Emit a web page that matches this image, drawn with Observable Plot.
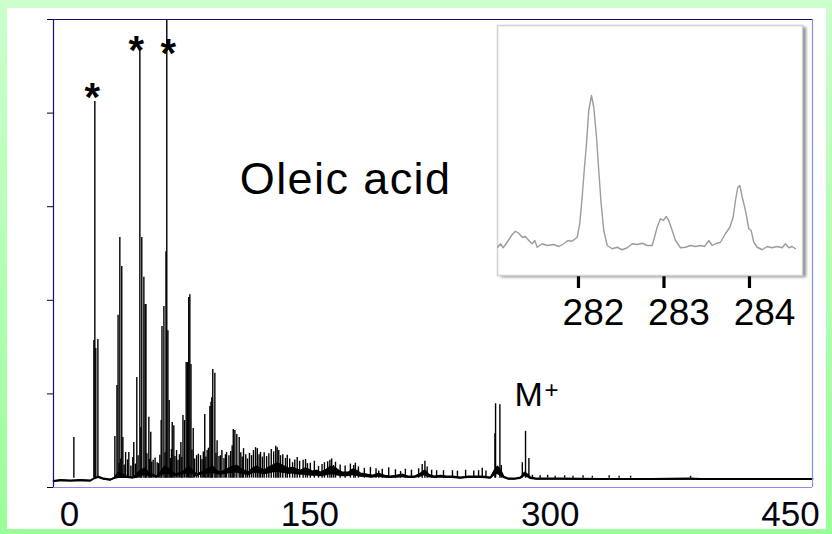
<!DOCTYPE html>
<html><head><meta charset="utf-8">
<script src="https://cdn.jsdelivr.net/npm/d3@7"></script>
<script src="https://cdn.jsdelivr.net/npm/@observablehq/plot@0.6"></script>
<style>
html,body{margin:0;padding:0;background:#fff;}
#wrap{position:relative;width:832px;height:534px;overflow:hidden;background:linear-gradient(to bottom,#ccffcc,#99ff99);}
#main{position:absolute;left:7px;top:8px;}
#insetbox{position:absolute;left:497px;top:25px;width:305px;height:250px;background:#fff;box-shadow:4px 2px 3px #8a8a8a;}
#inset{position:absolute;left:490px;top:20px;}
</style>
</head><body>
<div id="wrap"><div id="main"></div><div id="insetbox"></div><div id="inset"></div></div>
<script>
// ---- main spectrum: axis ----
const xDomain = [-10, 463.7];
const xTicks = [0, 150, 300, 450];
const yDomain = [0, 100];
const yTicks = [0, 20, 40, 60, 80, 100];

// ---- main spectrum: peaks (m/z, relative intensity) ----
const peakMz = [2.7, 15.2, 15.8, 16.4, 17.7, 28.3, 29.6, 30.3, 31.4, 32.6, 33.3, 35.0, 37.0, 40.1, 42.0, 43.9, 44.5, 45.1, 46.4, 47.2, 47.7, 49.5, 50.7, 52.2, 54.7, 57.2, 57.7, 58.9, 60.2, 60.7, 61.4, 62.2, 64.1, 65.1, 66.8, 69.5, 70.8, 71.8, 72.8, 73.6, 74.4, 75.1, 75.8, 77.2, 79.3, 81.8, 84.4, 85.9, 87.6, 88.3, 88.8, 89.4, 90.7, 92.1, 94.2, 98.0, 102.2, 103.2, 104.4, 105.9, 108.6, 112.3, 117.2, 119.2, 123.0, 129.6, 131.7, 134.8, 139.2, 147.3, 148.5, 155.4, 162.5, 164.8, 177.4, 193.0, 206.6, 220.1, 221.8, 229.1, 239.0, 252.3, 257.6, 265.5, 265.9, 268.6, 269.5, 282.6, 284.6, 286.7, 387.6];
const peakInt = [10.7, 31.4, 82.5, 29.7, 31.6, 10.9, 21.8, 36.8, 53.4, 47.2, 10.7, 7.5, 7.5, 9.6, 23.5, 93.8, 12.8, 53.4, 44.9, 39.1, 39.1, 15.0, 11.8, 5.8, 5.3, 14.3, 34.4, 38.7, 50.4, 100, 33.5, 18.6, 13.9, 13.2, 7.9, 9.6, 15.4, 14.3, 26.7, 26.7, 40.6, 41.2, 26.3, 12.6, 6.8, 6.8, 15.6, 7.9, 17.3, 18.2, 19.2, 25.2, 24.4, 10.0, 6.8, 7.5, 12.4, 12.2, 11.3, 10.7, 8.3, 7.3, 8.3, 7.5, 6.6, 8.5, 6.8, 6.2, 5.3, 6.0, 5.1, 4.5, 5.8, 4.7, 4.7, 3.5, 3.4, 4.9, 5.6, 3.6, 3.6, 3.5, 4.1, 11.5, 17.9, 17.7, 4.7, 5.3, 12.0, 6.2, 2.4];
const peakFoot = 2;

// ---- main spectrum: small "grass" spikes ----
const grassMz = [30.9, 32.0, 34.1, 36.2, 38.3, 39.5, 41.1, 42.8, 48.3, 49.9, 51.3, 53.4, 55.6, 56.4, 59.6, 63.0, 63.6, 65.8, 67.7, 68.6, 70.1, 76.4, 78.1, 80.4, 82.7, 83.5, 85.1, 86.7, 91.4, 93.3, 95.1, 96.4, 97.3, 99.5, 100.6, 101.5, 106.9, 107.8, 110.0, 111.1, 113.6, 114.8, 116.1, 118.3, 120.4, 121.5, 124.4, 125.9, 127.4, 128.7, 130.6, 133.1, 135.9, 137.4, 140.6, 142.1, 143.6, 145.8, 150.3, 152.8, 157.6, 159.1, 161.1, 163.6, 166.0, 168.9, 172.0, 175.3, 178.4, 180.3, 184.0, 187.8, 191.3, 195.2, 199.2, 203.4, 209.6, 213.4, 217.9, 223.2, 226.0, 233.4, 242.1, 247.2, 255.3, 259.9, 288.9, 293.7, 298.4, 303.1, 309.0, 314.2, 320.5, 326.3, 336.8, 343.0, 350.2];
const grassInt = [5.2, 6.1, 4.8, 5.9, 4.6, 6.4, 5.0, 6.8, 7.2, 6.0, 5.4, 6.3, 5.1, 6.9, 7.4, 6.2, 8.1, 6.6, 5.8, 7.0, 6.4, 8.0, 6.1, 7.1, 6.0, 7.6, 6.5, 8.4, 7.3, 6.6, 7.9, 6.2, 7.0, 6.8, 7.7, 8.9, 7.4, 6.5, 7.0, 6.1, 6.8, 7.9, 8.5, 7.0, 6.5, 7.4, 7.2, 8.1, 7.6, 8.8, 7.9, 7.0, 6.9, 6.1, 5.9, 6.4, 5.6, 5.8, 5.2, 5.6, 4.9, 5.3, 5.5, 6.1, 5.4, 4.8, 4.6, 5.0, 5.2, 4.4, 4.1, 4.3, 4.0, 3.9, 4.2, 3.8, 3.9, 3.7, 4.0, 4.4, 3.7, 3.6, 3.5, 3.7, 3.6, 3.5, 2.6, 2.5, 2.6, 2.4, 2.5, 2.4, 2.5, 2.4, 2.5, 2.4, 2.4];

// ---- main spectrum: noise floor (upper / lower edge of the grass) ----
const baseMz = [-10.0, -5.6, 0.6, 6.9, 13.1, 15.0, 18.1, 21.2, 25.6, 28.1, 30.6, 33.1, 35.6, 39.3, 41.8, 44.3, 46.8, 49.3, 51.8, 54.3, 56.8, 59.3, 61.8, 64.3, 66.8, 69.3, 71.8, 74.3, 76.8, 79.3, 81.8, 84.3, 86.8, 89.2, 91.7, 94.2, 96.7, 99.2, 101.7, 104.2, 106.7, 109.2, 111.7, 114.2, 116.7, 119.2, 121.7, 124.2, 126.7, 129.2, 131.7, 134.2, 136.7, 139.2, 141.7, 144.2, 146.7, 149.2, 151.7, 154.2, 156.6, 160.4, 162.9, 165.4, 167.9, 170.4, 174.1, 176.6, 179.1, 181.6, 185.4, 189.1, 192.9, 196.6, 200.3, 204.1, 207.8, 211.6, 215.3, 219.1, 221.6, 224.1, 227.8, 231.5, 235.3, 239.0, 244.0, 249.0, 254.0, 257.8, 262.8, 265.2, 267.1, 269.0, 270.9, 274.0, 277.7, 281.5, 284.0, 285.8, 287.7, 291.5, 306.4, 331.4, 362.6, 387.6, 393.8, 425.0, 456.2, 463.7];
const baseHi = [1.39, 1.60, 1.50, 1.60, 1.50, 1.92, 2.35, 1.92, 1.71, 2.14, 3.21, 2.78, 2.35, 2.14, 2.78, 3.63, 4.06, 3.21, 2.78, 2.35, 3.21, 4.49, 4.06, 3.21, 2.78, 3.21, 3.63, 4.49, 3.63, 2.78, 3.21, 3.63, 4.06, 4.49, 3.63, 3.21, 3.63, 4.06, 4.49, 4.70, 4.06, 3.63, 3.21, 4.06, 4.49, 4.06, 3.63, 4.27, 4.70, 5.13, 4.92, 4.49, 4.06, 4.27, 3.85, 3.63, 4.06, 3.85, 3.42, 3.63, 3.21, 3.85, 4.49, 4.27, 3.63, 3.21, 3.21, 3.85, 3.63, 2.99, 2.78, 2.56, 2.99, 2.56, 2.35, 2.56, 2.78, 2.35, 2.35, 2.99, 3.63, 2.78, 2.35, 2.56, 2.35, 2.35, 2.14, 2.35, 2.35, 2.35, 2.14, 3.63, 4.49, 3.63, 2.35, 1.92, 1.92, 2.14, 3.21, 2.78, 2.14, 1.92, 1.92, 1.82, 1.82, 1.92, 1.82, 1.82, 1.82, 1.82];
const baseLo = [1.05, 1.25, 1.15, 1.25, 1.15, 1.55, 1.9, 1.55, 1.35, 1.7, 1.9, 1.9, 1.9, 1.8, 1.9, 2.3, 2.5, 2.4, 2.3, 1.95, 2.4, 2.7, 2.7, 2.5, 2.3, 2.6, 2.8, 2.9, 2.8, 2.3, 2.6, 2.8, 2.9, 3.0, 2.8, 2.6, 2.8, 2.9, 3.0, 3.1, 2.9, 2.7, 2.5, 2.9, 3.0, 2.9, 2.7, 2.9, 3.1, 3.2, 3.1, 3.0, 2.8, 2.9, 2.7, 2.6, 2.6, 2.5, 2.4, 2.4, 2.3, 2.5, 2.7, 2.6, 2.4, 2.3, 2.3, 2.5, 2.4, 2.2, 2.1, 2.0, 2.2, 2.0, 1.9, 2.0, 2.1, 1.9, 1.9, 2.2, 2.5, 2.1, 1.9, 2.0, 1.9, 1.9, 1.75, 1.9, 1.9, 1.9, 1.75, 2.4, 2.8, 2.4, 1.9, 1.55, 1.55, 1.7, 2.3, 2.1, 1.7, 1.55, 1.55, 1.47, 1.47, 1.55, 1.47, 1.47, 1.47, 1.47];

// ---- annotations (data coordinates) ----
const starMz = [14.2, 41.6, 61.6];
const starInt = [84.4, 94.4, 93.8];
const titleText = ["Oleic acid"];
const titleMz = [172.3];
const titleInt = [62.8];
const ionText = ["M", "+"];
const ionMz = [286.5, 300.8];
const ionInt = [17.5, 19.1];

// ---- inset: molecular-ion region ----
const insetDomain = [281.053, 284.62];
const insetTicks = [282, 283, 284];
const insetMz = [281.056, 281.088, 281.119, 281.166, 281.225, 281.263, 281.302, 281.342, 281.380, 281.419, 281.458, 281.489, 281.517, 281.575, 281.634, 281.711, 281.770, 281.828, 281.875, 281.926, 281.985, 282.015, 282.043, 282.070, 282.094, 282.120, 282.152, 282.179, 282.211, 282.237, 282.265, 282.296, 282.336, 282.394, 282.453, 282.511, 282.570, 282.628, 282.687, 282.745, 282.804, 282.862, 282.889, 282.920, 282.959, 282.991, 283.026, 283.056, 283.096, 283.135, 283.193, 283.251, 283.310, 283.368, 283.427, 283.474, 283.524, 283.564, 283.602, 283.661, 283.719, 283.770, 283.809, 283.836, 283.863, 283.887, 283.915, 283.953, 283.992, 284.020, 284.050, 284.090, 284.149, 284.207, 284.265, 284.324, 284.382, 284.421, 284.460, 284.499, 284.538];
const insetInt = [11.3, 12.7, 11.1, 13.3, 16.4, 17.7, 16.9, 15.3, 15.6, 14.0, 12.7, 14.0, 11.3, 12.7, 12.0, 12.4, 11.6, 12.7, 14.0, 13.7, 15.3, 20.7, 31.3, 43.3, 52.7, 66.0, 72.0, 67.3, 55.3, 42.0, 28.7, 18.0, 12.0, 10.7, 11.3, 10.3, 11.1, 12.7, 12.4, 12.9, 12.0, 12.0, 15.3, 19.3, 22.7, 22.0, 23.6, 22.0, 18.0, 14.0, 11.1, 11.3, 12.0, 11.6, 12.0, 11.6, 14.0, 12.0, 12.7, 13.3, 16.7, 19.3, 23.3, 30.0, 35.3, 36.0, 31.3, 26.0, 18.7, 18.0, 13.3, 11.3, 10.3, 11.6, 11.1, 11.6, 11.1, 12.7, 11.1, 11.6, 10.7];

const font = "Liberation Sans, Arial, Helvetica, sans-serif";
const peaks = peakMz.map((m, i) => ({mz: m, int: peakInt[i]}));
const grass = grassMz.map((m, i) => ({mz: m, int: grassInt[i]}));
const floor = baseMz.map((m, i) => ({mz: m, hi: baseHi[i], lo: baseLo[i]}));
const stars = starMz.map((m, i) => ({mz: m, int: starInt[i]}));
const titles = titleMz.map((m, i) => ({mz: m, int: titleInt[i], t: titleText[i]}));
const ions = ionMz.map((m, i) => ({mz: m, int: ionInt[i], t: ionText[i]}));
const inset = insetMz.map((m, i) => ({mz: m, int: insetInt[i]}));

const main = Plot.plot({
  width: 819, height: 521,
  marginLeft: 46, marginRight: 14, marginTop: 11, marginBottom: 42,
  x: {domain: xDomain, ticks: xTicks, tickSize: 0, tickPadding: 14, tickFormat: d => String(d), label: null},
  y: {domain: yDomain, ticks: yTicks, tickSize: 6, tickFormat: () => "", label: null},
  style: {background: "#fff", fontSize: "35px", fontFamily: font, color: "#05050f", overflow: "visible"},
  marks: [
    Plot.areaY(floor, {x: "mz", y1: "lo", y2: "hi", fill: "#000"}),
    Plot.line(floor, {x: "mz", y: "hi", stroke: "#000", strokeWidth: 1.8}),
    Plot.ruleX(grass, {x: "mz", y1: peakFoot, y2: "int", stroke: "#000", strokeWidth: 1.4}),
    Plot.ruleX(peaks, {x: "mz", y1: peakFoot, y2: "int", stroke: "#000", strokeWidth: 1.4}),
    Plot.ruleY([yDomain[1]], {stroke: "#101080", strokeWidth: 1.2}),
    Plot.ruleX([xDomain[0]], {stroke: "#101080", strokeWidth: 1.2}),
    Plot.ruleY([yDomain[0]], {stroke: "#8c8cf0", strokeWidth: 1.2}),
    Plot.ruleX([xDomain[1]], {stroke: "#8c8cf0", strokeWidth: 1.2}),
    Plot.text(stars, {x: "mz", y: "int", text: () => "*", fontSize: 40, fontWeight: "bold", fontFamily: font, lineAnchor: "bottom", dy: 18, fill: "#000"}),
    Plot.text(titles, {x: "mz", y: "int", text: "t", fontSize: 45, fontFamily: font, lineAnchor: "bottom", fill: "#000"}),
    Plot.text(ions.slice(0, 1), {x: "mz", y: "int", text: "t", fontSize: 34, fontFamily: font, lineAnchor: "bottom", fill: "#000"}),
    Plot.text(ions.slice(1), {x: "mz", y: "int", text: "t", fontSize: 24, fontFamily: font, lineAnchor: "bottom", fill: "#000"})
  ]
});
document.getElementById("main").appendChild(main);
// slightly wider lettering for the title, as in the reference
d3.select(main).selectAll("text").filter(function() { return this.textContent === titleText[0]; }).style("letter-spacing", "1.4px");

const ins = Plot.plot({
  width: 325, height: 315,
  marginLeft: 7, marginRight: 13, marginTop: 5, marginBottom: 60,
  x: {domain: insetDomain, ticks: insetTicks, tickSize: 13, tickPadding: 10, tickFormat: d => String(d), label: null},
  y: {domain: [0, 100], axis: null},
  style: {background: "transparent", fontSize: "37px", fontFamily: font, color: "#000", overflow: "visible"},
  marks: [
    Plot.frame({stroke: "#d2d2d2", strokeWidth: 1.5}),
    Plot.line(inset, {x: "mz", y: "int", stroke: "#9c9c9c", strokeWidth: 1.4})
  ]
});
document.getElementById("inset").appendChild(ins);
// thicker inset ticks, labels nudged right as in the reference
d3.select(ins).selectAll('g[aria-label^="x-axis"] line, g[aria-label^="x-axis"] path').attr("stroke-width", 3.2);
d3.select(ins).selectAll('g[aria-label^="x-axis"] text').attr("dx", 15);
</script>
</body></html>
